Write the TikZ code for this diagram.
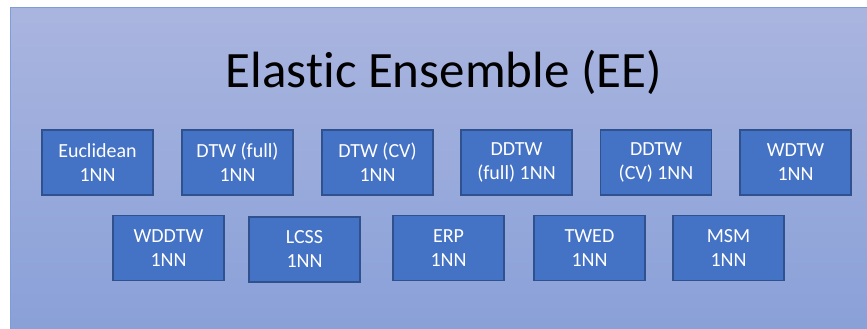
\documentclass[tikz,border=0pt]{standalone}
\usepackage{fontspec}
\setmainfont[Ligatures=NoCommon]{Carlito}
\begin{document}
\begin{tikzpicture}[x=1pt,y=-1pt,
  method/.style={draw=methodedge, line width=1.3pt, fill=methodfill,
    minimum width=111pt, minimum height=65pt, inner sep=0pt,
    text=white, align=center, font=\fontsize{20}{24}\selectfont}]
\definecolor{panelTop}{RGB}{170,181,223}
\definecolor{panelBot}{RGB}{137,160,216}
\definecolor{panelEdge}{RGB}{125,157,216}
\definecolor{methodfill}{RGB}{68,114,196}
\definecolor{methodedge}{RGB}{47,82,143}
\useasboundingbox (0,0) rectangle (867,329);
\fill[white] (0,0) rectangle (867,329);
% background panel
\shade[top color=panelTop, bottom color=panelBot] (10,8) rectangle (870,332);
\draw[panelEdge, line width=1pt] (870,8) -- (10,8) -- (10,332);
% title
\node[font=\fontsize{51}{61}\selectfont, anchor=base] (title) at (444,87) {Elastic Ensemble (EE)};
% first row of classifiers
\node[method] (euc)   at (97.5,162.5) {Euclidean\\1NN};
\node[method] (dtwf)  at (237.5,162.5) {DTW (full)\\1NN};
\node[method] (dtwcv) at (377.5,162.5) {DTW (CV)\\1NN};
\node[method] (ddtwf) at (516.5,162.5) {DDTW\\(full) 1NN};
\node[method] (ddtwcv) at (656,162.5) {DDTW\\(CV) 1NN};
\node[method] (wdtw)  at (795.5,162.5) {WDTW\\1NN};
% second row of classifiers
\node[method] (wddtw) at (168.5,248) {WDDTW\\1NN};
\node[method] (lcss)  at (304.5,249.5) {LCSS\\1NN};
\node[method] (erp)   at (448.5,248) {ERP\\1NN};
\node[method] (twed)  at (589.5,248) {TWED\\1NN};
\node[method] (msm)   at (728.5,248) {MSM\\1NN};
\end{tikzpicture}
\end{document}
